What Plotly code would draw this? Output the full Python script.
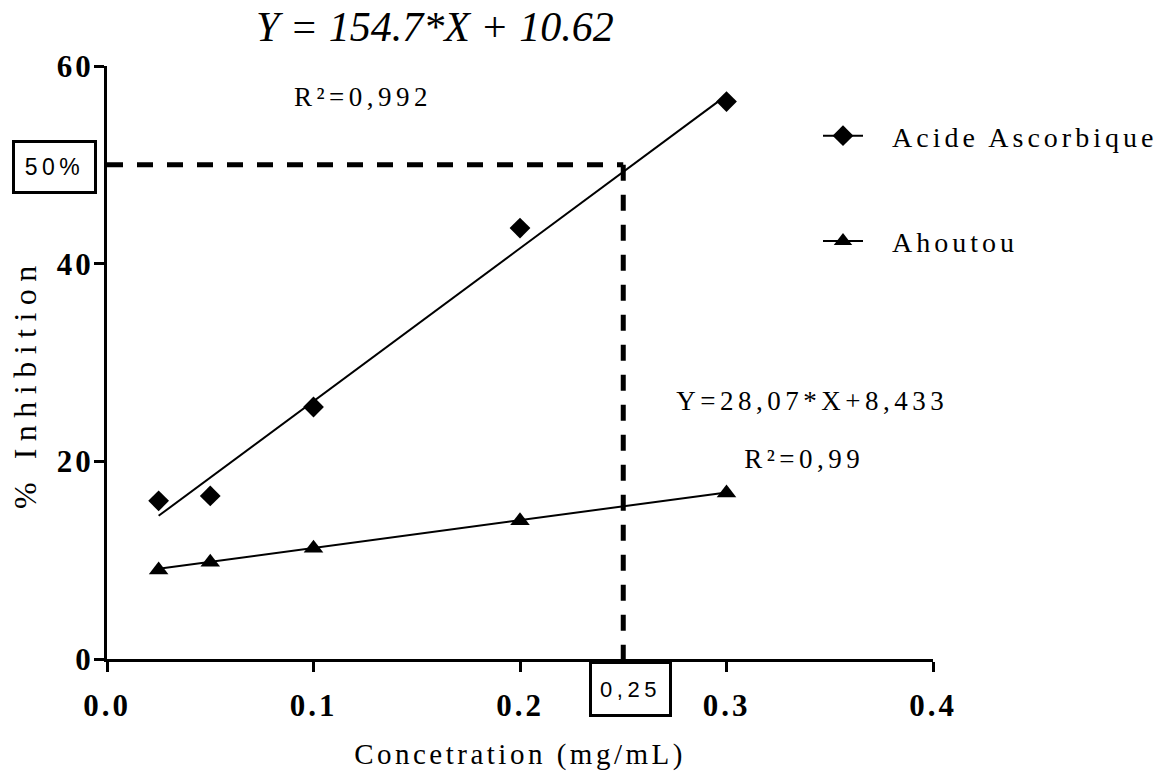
import plotly.graph_objects as go

# Concentrations tested (mg/mL) and measured inhibition (%)
conc = [0.025, 0.05, 0.1, 0.2, 0.3]
acide_ascorbique = [16.0, 16.5, 25.5, 43.6, 56.4]
ahoutou = [9.0, 9.8, 11.2, 14.0, 16.8]

# Linear regressions (slope, intercept) as printed on the chart
fit_acide = (154.7, 10.62)
fit_ahoutou = (28.07, 8.433)
fit_range = [0.025, 0.3]

# 50 % inhibition read-off
ic50_x = 0.25
ic50_y = 50

x_ticks = [0.0, 0.1, 0.2, 0.3, 0.4]
x_ticktext = ["0.0", "0.1", "0.2", "0.3", "0.4"]
y_ticks = [0, 20, 40, 60]
y_ticktext = ["0", "20", "40", "60"]

W, H = 1172, 775
ML, MR, MT, MB = 107, 239, 66, 116
PW, PH = W - ML - MR, H - MT - MB


def px_x(p):
    return (p - ML) / PW


def px_y(p):
    return (H - MB - p) / PH


SERIF = "Liberation Serif, Times New Roman, serif"
SANS = "Liberation Sans, Arial, sans-serif"

fig = go.Figure()

# regression lines
for slope, intercept in (fit_acide, fit_ahoutou):
    fig.add_trace(go.Scatter(
        x=fit_range, y=[slope * v + intercept for v in fit_range],
        mode="lines", line=dict(color="black", width=2),
        showlegend=False, hoverinfo="skip"))

# measured points
fig.add_trace(go.Scatter(
    x=conc, y=acide_ascorbique, mode="markers", name="Acide Ascorbique",
    marker=dict(symbol="diamond", size=16, color="black"), showlegend=False))
fig.add_trace(go.Scatter(
    x=conc, y=ahoutou, mode="markers", name="Ahoutou",
    marker=dict(symbol="triangle-up", size=17, color="black"), showlegend=False))

# legend entries (line + symbol)
fig.add_trace(go.Scatter(
    x=[None], y=[None], mode="lines+markers", name="Acide Ascorbique",
    legendgroup="a", line=dict(color="black", width=2),
    marker=dict(symbol="diamond", size=16, color="black")))
fig.add_trace(go.Scatter(
    x=[None], y=[None], mode="lines+markers", name="Ahoutou",
    legendgroup="b", line=dict(color="black", width=2),
    marker=dict(symbol="triangle-up", size=17, color="black")))

# dashed read-off lines
dash = dict(color="black", width=5, dash="16px,14px")
fig.add_shape(type="line", xref="x", yref="y", x0=0, y0=ic50_y, x1=ic50_x, y1=ic50_y, line=dash)
fig.add_shape(type="line", xref="x", yref="y", x0=ic50_x, y0=ic50_y, x1=ic50_x, y1=0, line=dash)

annotations = [
    dict(text="Y = 154.7*X + 10.62", x=px_x(435), y=px_y(27),
         font=dict(family=SERIF, size=42, color="black", style="italic")),
    dict(text="R\u00b2=0,992", x=px_x(363), y=px_y(97),
         font=dict(family=SERIF, size=27, color="black")),
    dict(text="Y=28,07*X+8,433", x=px_x(812), y=px_y(401),
         font=dict(family=SERIF, size=27, color="black")),
    dict(text="R\u00b2=0,99", x=px_x(804), y=px_y(459),
         font=dict(family=SERIF, size=27, color="black")),
    dict(text="50%", x=px_x(55), y=px_y(167), width=79, height=48,
         bordercolor="black", borderwidth=3, borderpad=0,
         font=dict(family=SANS, size=23, color="black")),
    dict(text="0,25", x=px_x(630.5), y=px_y(689), width=77, height=50,
         bordercolor="black", borderwidth=3, borderpad=0,
         font=dict(family=SANS, size=22, color="black")),
    # y-axis title
    dict(text="% Inhibition", x=px_x(25), y=px_y(384), textangle=-90,
         font=dict(family=SERIF, size=32, color="black")),
]
for a in annotations:
    a.update(xref="paper", yref="paper", xanchor="center", yanchor="middle",
             showarrow=False)
    fig.add_annotation(**a)

axis_common = dict(
    showline=True, linecolor="black", linewidth=3,
    ticks="outside", ticklen=10, tickwidth=3, tickcolor="black",
    showgrid=False, zeroline=False,
    tickfont=dict(family=SERIF, size=31, color="black", weight="bold"),
)

fig.update_xaxes(
    range=[0, 0.4], tickvals=x_ticks, ticktext=x_ticktext,
    ticklabelstandoff=7,
    title=dict(text="Concetration (mg/mL)", standoff=22,
               font=dict(family=SERIF, size=29, color="black")),
    **axis_common)
fig.update_yaxes(
    range=[0, 60], tickvals=y_ticks, ticktext=y_ticktext,
    ticklabelstandoff=-6,
    **axis_common)

fig.update_layout(
    width=W, height=H,
    margin=dict(l=ML, r=MR, t=MT, b=MB, autoexpand=False),
    paper_bgcolor="white", plot_bgcolor="white",
    legend=dict(x=px_x(818), y=px_y(111), xanchor="left", yanchor="top",
                tracegroupgap=66, itemwidth=40, bgcolor="rgba(0,0,0,0)",
                font=dict(family=SERIF, size=28, color="black")),
    hovermode=False,
)

# wide letter spacing of the labels; legend labels set further from their symbols
spacing_js = """
var gd = document.getElementById('{plot_id}');
var rules = [['.xtick text', '3px'], ['.ytick text', '3px'],
             ['.xtitle', '3.5px'], ['.legendtext', '4px']];
rules.forEach(function (r) {
  gd.querySelectorAll(r[0]).forEach(function (t) { t.style.letterSpacing = r[1]; });
});
gd.querySelectorAll('.annotation-text').forEach(function (t) {
  if (t.textContent.charAt(0) === '%') { t.style.letterSpacing = '7.5px'; }
  else if (t.style.fontStyle !== 'italic') { t.style.letterSpacing = '4.5px'; }
});
gd.querySelectorAll('.legend .scrollbox').forEach(function (g) { g.removeAttribute('clip-path'); });
gd.querySelectorAll('.legend').forEach(function (g) { g.removeAttribute('clip-path'); });
gd.querySelectorAll('.legendtext').forEach(function (t) {
  t.setAttribute('x', parseFloat(t.getAttribute('x') || 0) + 24);
});
"""

fig.write_html("out.html", post_script=spacing_js)
